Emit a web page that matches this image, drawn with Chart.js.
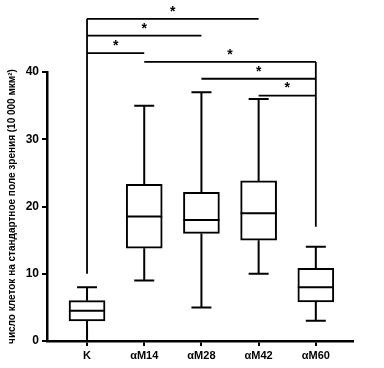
<!DOCTYPE html>
<html>
<head>
<meta charset="utf-8">
<script src="https://cdn.jsdelivr.net/npm/chart.js@4.4.1/dist/chart.umd.min.js"></script>
<style>
  html, body { margin: 0; padding: 0; background: #fff; }
  #wrap { width: 384px; height: 368px; }
</style>
</head>
<body>
<div id="wrap"><canvas id="boxChart" width="384" height="368"></canvas></div>
<script>
// ── Data ───────────────────────────────────────────────────────
const categories = ['K', 'αM14', 'αM28', 'αM42', 'αM60'];
const whiskerMin = [0, 9, 5, 10, 3];
const quart1     = [3, 13.8, 16, 15, 5.8];
const medians    = [4.5, 18.5, 18, 19, 8];
const quart3     = [6, 23.3, 22.1, 23.8, 10.8];
const whiskerMax = [8, 35, 37, 36, 14];
const yTicks     = [0, 10, 20, 30, 40];

// significance brackets: [from category, to category, level]
const brackets = [
  [0, 3, 47.9], [0, 2, 45.4], [0, 1, 42.8],
  [1, 4, 41.5], [2, 4, 39.0], [3, 4, 36.5]
];
// vertical legs: [category, bottom, top]
const legs = [[0, 10, 47.9], [4, 17, 41.5]];

const FONT = '"Liberation Sans", Arial, sans-serif';

// ── Whiskers, medians, brackets ────────────────────────────────
const boxPlotExtras = {
  id: 'boxPlotExtras',
  afterDatasetsDraw(chart) {
    const { ctx, scales: { x, y } } = chart;
    ctx.save();
    ctx.strokeStyle = '#000';
    ctx.lineWidth = 2;
    const capHalf = 10, boxHalf = 18;

    categories.forEach((c, i) => {
      const cx = x.getPixelForValue(i);
      ctx.beginPath();
      // upper whisker + cap
      ctx.moveTo(cx, y.getPixelForValue(quart3[i]));
      ctx.lineTo(cx, y.getPixelForValue(whiskerMax[i]));
      ctx.moveTo(cx - capHalf, y.getPixelForValue(whiskerMax[i]));
      ctx.lineTo(cx + capHalf, y.getPixelForValue(whiskerMax[i]));
      // lower whisker + cap
      ctx.moveTo(cx, y.getPixelForValue(quart1[i]));
      ctx.lineTo(cx, y.getPixelForValue(whiskerMin[i]));
      ctx.moveTo(cx - capHalf, y.getPixelForValue(whiskerMin[i]));
      ctx.lineTo(cx + capHalf, y.getPixelForValue(whiskerMin[i]));
      // median
      ctx.moveTo(cx - boxHalf, y.getPixelForValue(medians[i]));
      ctx.lineTo(cx + boxHalf, y.getPixelForValue(medians[i]));
      ctx.stroke();
    });

    ctx.lineWidth = 1.8;
    ctx.beginPath();
    legs.forEach(([c, lo, hi]) => {
      const cx = x.getPixelForValue(c);
      ctx.moveTo(cx, y.getPixelForValue(lo));
      ctx.lineTo(cx, y.getPixelForValue(hi));
    });
    brackets.forEach(([a, b, lvl]) => {
      const py = y.getPixelForValue(lvl);
      ctx.moveTo(x.getPixelForValue(a), py);
      ctx.lineTo(x.getPixelForValue(b), py);
    });
    ctx.stroke();

    ctx.fillStyle = '#000';
    ctx.font = 'bold 14px ' + FONT;
    ctx.textAlign = 'center';
    ctx.textBaseline = 'middle';
    brackets.forEach(([a, b, lvl]) => {
      const mx = (x.getPixelForValue(a) + x.getPixelForValue(b)) / 2;
      ctx.fillText('*', mx, y.getPixelForValue(lvl) - 7);
    });
    ctx.restore();
  }
};

new Chart(document.getElementById('boxChart'), {
  type: 'bar',
  data: {
    datasets: [{
      data: categories.map((c, i) => ({ x: i, y: [quart1[i], quart3[i]] })),
      backgroundColor: '#fff',
      borderColor: '#000',
      borderWidth: 2,
      borderSkipped: false,
      barThickness: 36
    }]
  },
  options: {
    responsive: false,
    animation: false,
    layout: { padding: { top: 72, right: 31, bottom: 0, left: 0 } },
    plugins: { legend: { display: false }, tooltip: { enabled: false } },
    scales: {
      x: {
        type: 'linear',
        offset: false,
        min: -0.7,
        max: 4.65,
        afterBuildTicks: s => { s.ticks = categories.map((c, i) => ({ value: i })); },
        afterFit: s => { s.height = 27; },
        grid: { offset: false, drawOnChartArea: false, drawTicks: true, tickLength: 5, color: '#000', lineWidth: 2 },
        border: { display: true, color: '#000', width: 2.5 },
        ticks: {
          autoSkip: false, maxRotation: 0, padding: 3, color: '#000',
          font: { family: FONT, size: 11, weight: 'bold' },
          callback: v => categories[v]
        }
      },
      y: {
        min: 0,
        max: 40,
        afterBuildTicks: s => { s.ticks = yTicks.map(v => ({ value: v })); },
        afterFit: s => { s.width = 47; },
        grid: { drawOnChartArea: false, drawTicks: true, tickLength: 5, color: '#000', lineWidth: 2 },
        border: { display: true, color: '#000', width: 2.5 },
        ticks: {
          padding: 3, color: '#000',
          font: { family: FONT, size: 12, weight: 'bold' }
        },
        title: {
          display: true,
          text: 'число клеток на стандартное поле зрения (10 000 мкм²)',
          color: '#000',
          padding: { top: 6, bottom: 0 },
          font: { family: FONT, size: 10, weight: 'bold' }
        }
      }
    }
  },
  plugins: [boxPlotExtras]
});
</script>
</body>
</html>
